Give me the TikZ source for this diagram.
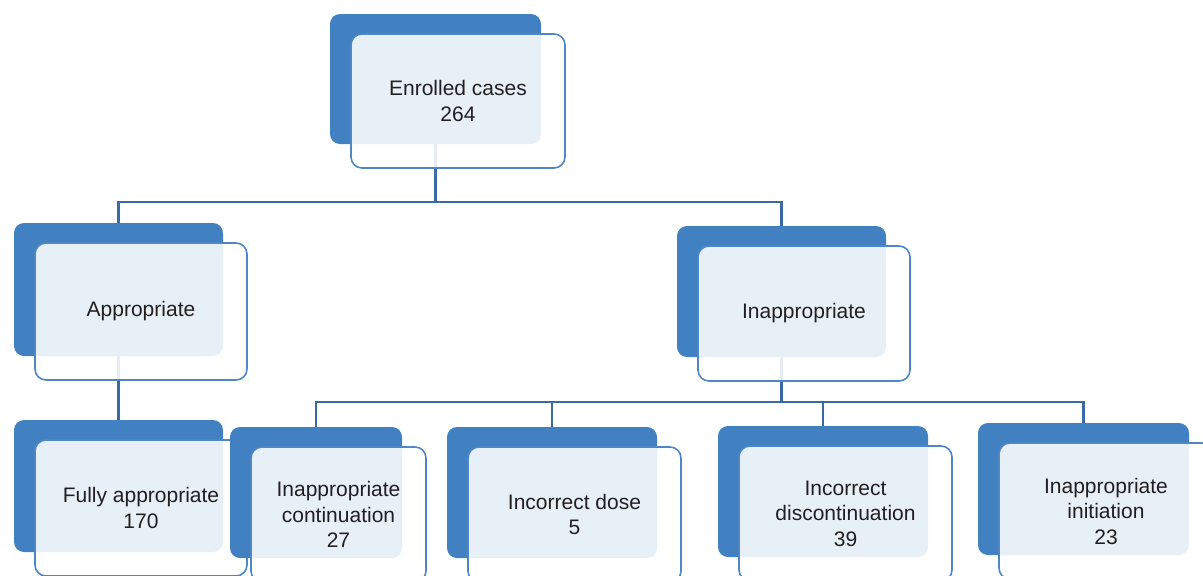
\documentclass[tikz,border=0pt]{standalone}
\usepackage{fontspec}
\setmainfont{Liberation Sans}
\pgfdeclarelayer{background}
\pgfsetlayers{background,main}
\definecolor{boxblue}{RGB}{65,128,193}
\definecolor{edgeblue}{RGB}{78,134,198}
\definecolor{linkblue}{RGB}{58,106,166}
\definecolor{txt}{RGB}{35,31,32}
\tikzset{
  backbox/.style={rectangle, rounded corners=10pt, fill=boxblue, draw=none, inner sep=0pt, outer sep=0pt, anchor=north west},
  frontbox/.style={rectangle, rounded corners=11pt, draw=edgeblue, line width=1.6pt, fill=white, fill opacity=0.88, text opacity=1, text=txt, inner sep=0pt, outer sep=0pt, anchor=north west, align=center, font=\fontsize{21}{25.5}\selectfont},
  link/.style={draw=linkblue, line width=2.4pt}
}
\newcommand{\pairbox}[6]{%
  \node[backbox, minimum width=#4, minimum height=#5] (#1b) at (#2,#3) {};
  \node[frontbox, minimum width=#4+3, minimum height=#5+4] (#1f) at (#2+21,#3+20) {#6};
}
\begin{document}
\begin{tikzpicture}[x=1pt,y=-1pt]
\useasboundingbox (0,0) rectangle (1203,576);
\pairbox{en}{330}{14}{211}{130}{Enrolled cases\\264}
\pairbox{ap}{14}{223}{209}{133}{Appropriate}
\pairbox{in}{677}{226}{209}{131}{Inappropriate}
\pairbox{fa}{14}{420}{209}{132}{Fully appropriate\\170}
\pairbox{ic}{230}{427}{172}{131}{Inappropriate\\continuation\\27}
\pairbox{id}{447}{427}{210}{131}{Incorrect dose\\5}
\pairbox{dc}{718}{426}{210}{131}{Incorrect\\discontinuation\\39}
\pairbox{ii}{978}{423}{211}{132}{Inappropriate\\initiation\\23}
\begin{pgfonlayer}{background}
\draw[link] (enb.south) -- ++(0,58) -| (apb.north);
\draw[link] (enb.south) -- ++(0,58) -| (inb.north);
\draw[link] (apb.south) -- (fab.north);
\draw[link] (inb.south) -- ++(0,45) -| (icb.north);
\draw[link] (inb.south) -- ++(0,45) -| (idb.north);
\draw[link] (inb.south) -- ++(0,45) -| (dcb.north);
\draw[link] (inb.south) -- ++(0,45) -| (iib.north);
\end{pgfonlayer}
\end{tikzpicture}
\end{document}
